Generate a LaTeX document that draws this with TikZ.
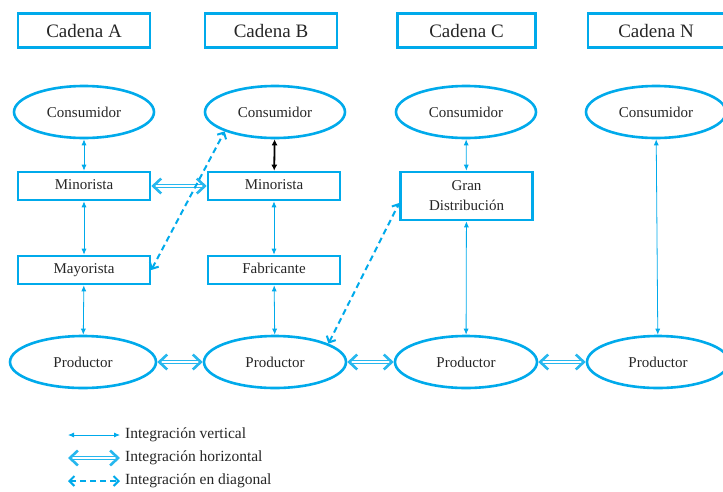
\documentclass[tikz,border=0pt]{standalone}
\usepackage{fontspec}
\setmainfont{Liberation Serif}
\usetikzlibrary{arrows.meta,shapes.geometric}
\definecolor{cy}{RGB}{0,170,235}
\tikzset{
  hdr/.style={draw=cy,line width=2.6pt,minimum width=132pt,minimum height=34pt,font=\fontsize{19}{21}\selectfont,text=black!85},
  bx/.style={draw=cy,line width=2.6pt,minimum width=132pt,minimum height=28pt,font=\fontsize{15}{20}\selectfont,text=black!85},
  onel/.style={text height=10pt,text depth=3pt},
  ell/.style={ellipse,draw=cy,line width=2.6pt,minimum width=140pt,minimum height=52pt,inner sep=0pt,font=\fontsize{15}{17}\selectfont,text=black!85},
  vert/.style={draw=cy,line width=0.8pt,{Latex[length=6pt,width=5pt]}-{Latex[length=6pt,width=5pt]}},
  horiz/.style={draw=cy!85,line width=1.4pt,double=white,double distance=2pt,{Straight Barb[length=8pt,width=15pt,line width=2.6pt]}-{Straight Barb[length=8pt,width=15pt,line width=2.6pt]}},
  diag/.style={draw=cy,line width=2pt,dash pattern=on 6pt off 4pt,{Straight Barb[length=5pt,width=10pt,line width=2pt]}-{Straight Barb[length=5pt,width=10pt,line width=2pt]}},
  leg/.style={anchor=west,font=\fontsize{15.5}{17}\selectfont,text=black!85,inner sep=0pt}
}
\begin{document}
\begin{tikzpicture}[x=1pt,y=-1pt]
\useasboundingbox (0,0) rectangle (723,491);
% headers
\node[hdr] (ha) at (84,30.5) {Cadena A};
\node[hdr] (hb) at (271,30.5) {Cadena B};
\node[hdr,minimum width=138pt] (hc) at (466.5,30.5) {Cadena C};
\node[hdr,minimum width=136pt] (hn) at (656,30.5) {Cadena N};
% consumidores
\node[ell] (ca) at (84,112) {Consumidor};
\node[ell] (cb) at (275,112) {Consumidor};
\node[ell] (cc) at (466,112) {Consumidor};
\node[ell] (cn) at (656,112) {Consumidor};
% middle
\node[bx,onel] (ma) at (84,186) {Minorista};
\node[bx,onel] (mb) at (274,186) {Minorista};
\node[bx,minimum height=48pt,align=center] (gd) at (466.5,196) {Gran\\Distribución};
\node[bx,onel] (ya) at (84,270) {Mayorista};
\node[bx,onel] (fb) at (274,270) {Fabricante};
% productores
\node[ell,minimum width=146pt] (pa) at (83,362) {Productor};
\node[ell,minimum width=142pt] (pb) at (275,362) {Productor};
\node[ell,minimum width=142pt] (pc) at (466,362) {Productor};
\node[ell,minimum width=142pt] (pn) at (658,362) {Productor};
% vertical
\draw[vert] (ca) -- (ma);
\draw[vert] (ma) -- (ya);
\draw[vert] (ya) -- (pa);
\draw[draw=black,line width=1.8pt,{Latex[length=6pt,width=6pt]}-{Latex[length=6pt,width=6pt]}] (cb) -- (mb);
\draw[vert] (mb) -- (fb);
\draw[vert] (fb) -- (pb);
\draw[vert] (cc) -- (gd);
\draw[vert] (gd) -- (pc);
\draw[vert] (cn) -- (pn);
% horizontal
\draw[horiz] (ma) -- (mb);
\draw[horiz] (pa) -- (pb);
\draw[horiz] (pb) -- (pc);
\draw[horiz] (pc) -- (pn);
% diagonal
\draw[diag] (ya.east) -- (cb.201);
\draw[diag] (pb.19) -- (gd.west |- 0,203);
% legend
\coordinate (l1a) at (68,435); \coordinate (l1b) at (120,435);
\coordinate (l2a) at (68,458); \coordinate (l2b) at (120,458);
\coordinate (l3a) at (68,481); \coordinate (l3b) at (120,481);
\draw[vert] (l1a) -- (l1b);
\draw[horiz] (l2a) -- (l2b);
\draw[diag] (l3a) -- (l3b);
\node[leg] (t1) at (125,435) {Integración vertical};
\node[leg] (t2) at (125,458) {Integración horizontal};
\node[leg] (t3) at (125,481) {Integración en diagonal};
\end{tikzpicture}
\end{document}
